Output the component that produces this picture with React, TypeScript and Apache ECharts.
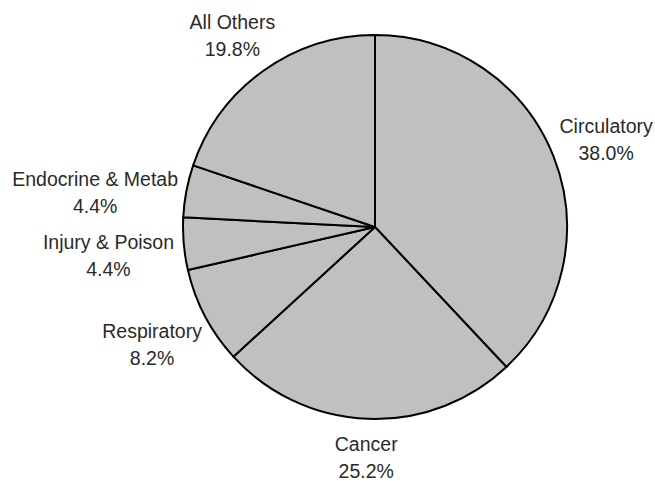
import React, { useEffect, useRef } from "react";
import * as echarts from "echarts";

const categories = [
  "Circulatory",
  "Cancer",
  "Respiratory",
  "Injury & Poison",
  "Endocrine & Metab",
  "All Others",
];
const shares = [38.0, 25.2, 8.2, 4.4, 4.4, 19.8];

// label layout tuning (px)
const labelNudgeY = [-3, 2, 11, 8, 8, -5];

const CX = 375;
const CY = 227;
const R = 192;
const GAP = 10;

export default function App() {
  const ref = useRef<HTMLDivElement>(null);
  useEffect(() => {
    document.body.style.margin = "0";
    const chart = echarts.init(ref.current!, null, { renderer: "svg" });
    const total = shares.reduce((a, b) => a + b, 0);
    const cum: number[] = [];
    let acc = 0;
    shares.forEach((v) => {
      cum.push(acc);
      acc += v;
    });
    chart.setOption({
      animation: false,
      backgroundColor: "#ffffff",
      series: [
        {
          type: "pie",
          center: [CX, CY],
          radius: R,
          startAngle: 90,
          clockwise: true,
          avoidLabelOverlap: false,
          silent: true,
          data: categories.map((c, i) => ({ name: c, value: shares[i] })),
          itemStyle: {
            color: "#c0c0c0",
            borderColor: "#000000",
            borderWidth: 2,
          },
          label: {
            show: true,
            position: "outside",
            formatter: (p: any) => `${p.name}\n${Number(p.value).toFixed(1)}%`,
            fontFamily: "Liberation Sans, Arial, sans-serif",
            fontSize: 19.5,
            lineHeight: 27,
            color: "#2a2a2a",
            align: "center",
          },
          labelLine: { show: false },
          labelLayout: (params: any) => {
            const i = params.dataIndex;
            const mid = ((cum[i] + shares[i] / 2) / total) * Math.PI * 2;
            const dx = Math.sin(mid);
            const dy = -Math.cos(mid);
            const w = params.labelRect.width;
            const h = params.labelRect.height;
            return {
              x: CX + (R + GAP) * dx + (w / 2) * dx,
              y: CY + (R + GAP) * dy + (h / 2) * dy + labelNudgeY[i],
              align: "center",
              verticalAlign: "middle",
            };
          },
        },
      ],
    });
    return () => chart.dispose();
  }, []);
  return <div ref={ref} style={{ width: 655, height: 481 }} />;
}
